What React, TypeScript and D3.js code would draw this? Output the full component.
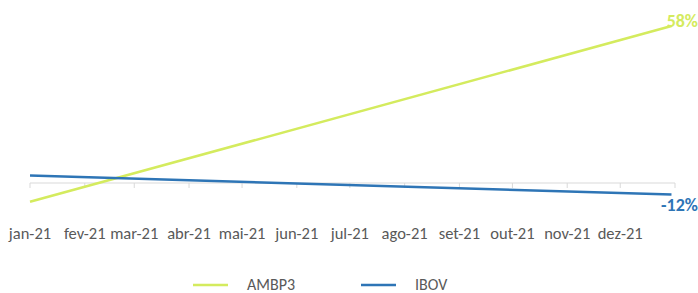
import { useEffect, useRef } from "react";
import * as d3 from "d3";

// months on the date axis (pt-BR short labels)
const monthLabels = [
  "jan-21", "fev-21", "mar-21", "abr-21", "mai-21", "jun-21",
  "jul-21", "ago-21", "set-21", "out-21", "nov-21", "dez-21",
];

// two points per series: start and end of 2021
const dates = [new Date(2021, 0, 1), new Date(2021, 11, 30)];
const ambp3Values = [0, 58];
const ibovValues = [0, -12];

const seriesNames = ["AMBP3", "IBOV"];
const seriesColors = ["#d4eb5e", "#2e75b6"];

export default function App() {
  const svgRef = useRef<SVGSVGElement>(null);

  useEffect(() => {
    const width = 698;
    const font = "Carlito, Lato, 'Open Sans', sans-serif";

    const svg = d3.select(svgRef.current);
    svg.selectAll("*").remove();

    // date axis, day proportional
    const x = d3
      .scaleTime()
      .domain([new Date(2021, 0, 1), new Date(2022, 0, 1)])
      .range([30, 675]);

    // each series sits on its own (hidden) value axis
    const yA = d3.scaleLinear().domain([-6, 60]).range([220, 20]);
    const yB = d3.scaleLinear().domain([-28, 98]).range([220, 20]);

    const axisY = 183;

    // axis line + ticks
    const tickDates = d3.timeMonth.range(
      new Date(2021, 0, 1),
      new Date(2022, 0, 2),
    );
    svg
      .append("line")
      .attr("x1", x(tickDates[0]))
      .attr("x2", x(tickDates[tickDates.length - 1]))
      .attr("y1", axisY)
      .attr("y2", axisY)
      .attr("stroke", "#d9d9d9")
      .attr("stroke-width", 1);
    svg
      .selectAll("line.tick")
      .data(tickDates)
      .join("line")
      .attr("class", "tick")
      .attr("x1", (d) => x(d))
      .attr("x2", (d) => x(d))
      .attr("y1", axisY)
      .attr("y2", axisY + 5)
      .attr("stroke", "#d9d9d9");

    svg
      .selectAll("text.month")
      .data(monthLabels)
      .join("text")
      .attr("class", "month")
      .attr("x", (_, i) => x(tickDates[i]))
      .attr("y", 239)
      .attr("text-anchor", "middle")
      .attr("font-family", font)
      .attr("font-size", 16.5)
      .attr("fill", "#595959")
      .text((d) => d);

    const series = [
      { name: seriesNames[0], values: ambp3Values, y: yA, color: seriesColors[0] },
      { name: seriesNames[1], values: ibovValues, y: yB, color: seriesColors[1] },
    ];

    series.forEach((s) => {
      const pts = dates.map((d, i) => [d, s.values[i]] as [Date, number]);
      const line = d3
        .line<[Date, number]>()
        .x((d) => x(d[0]))
        .y((d) => s.y(d[1]));
      svg
        .append("path")
        .attr("d", line(pts))
        .attr("fill", "none")
        .attr("stroke", s.color)
        .attr("stroke-width", 2.5);
    });

    // end labels
    svg
      .append("text")
      .attr("x", width)
      .attr("y", yA(ambp3Values[1]) + 1)
      .attr("text-anchor", "end")
      .attr("font-family", font)
      .attr("font-weight", "bold")
      .attr("font-size", 18)
      .attr("fill", seriesColors[0])
      .text(`${ambp3Values[1]}%`);
    svg
      .append("text")
      .attr("x", width)
      .attr("y", yB(ibovValues[1]) + 16)
      .attr("text-anchor", "end")
      .attr("font-family", font)
      .attr("font-weight", "bold")
      .attr("font-size", 18)
      .attr("fill", seriesColors[1])
      .text(`${ibovValues[1]}%`);

    // legend
    const legendX = [193, 361];
    series.forEach((s, i) => {
      const g = svg.append("g").attr("transform", `translate(${legendX[i]},285)`);
      g.append("line")
        .attr("x1", 0)
        .attr("x2", 35)
        .attr("stroke", s.color)
        .attr("stroke-width", 2.5);
      g.append("text")
        .attr("x", 54)
        .attr("y", 5)
        .attr("font-family", font)
        .attr("font-size", 16)
        .attr("fill", "#595959")
        .text(s.name);
    });
  }, []);

  return (
    <svg
      ref={svgRef}
      width={698}
      height={293}
      style={{ position: "absolute", left: 0, top: 0, background: "#fff" }}
    />
  );
}
